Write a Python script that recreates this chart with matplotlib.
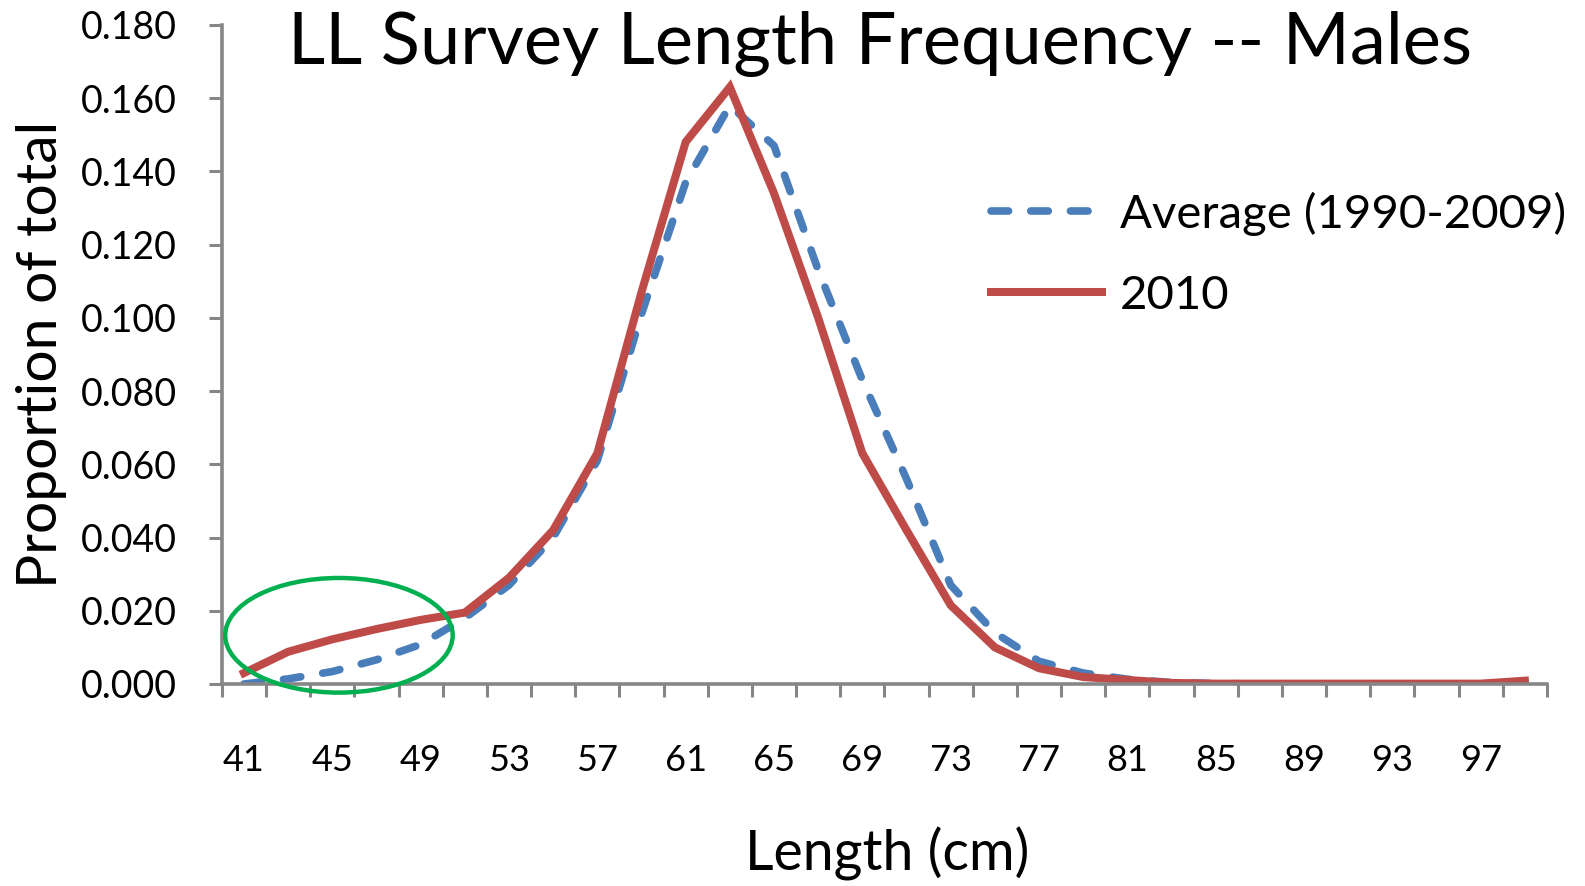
import matplotlib.pyplot as plt
from matplotlib.patches import Ellipse
from matplotlib.ticker import FixedLocator, NullFormatter, FixedFormatter

# Datos
longitudes = list(range(41, 101, 2))
promedio = [0.000, 0.0014, 0.0034, 0.0066, 0.0108, 0.018, 0.027, 0.040,
            0.061, 0.101, 0.137, 0.158, 0.147, 0.113, 0.083, 0.056, 0.027,
            0.014, 0.0062, 0.003, 0.0013, 0.0004, 0.0001, 0.0, 0.0, 0.0,
            0.0, 0.0, 0.0, 0.0]
anio_2010 = [0.003, 0.0088, 0.0122, 0.015, 0.0175, 0.0195, 0.029, 0.042,
             0.063, 0.107, 0.148, 0.163, 0.134, 0.100, 0.063, 0.042, 0.0215,
             0.010, 0.0043, 0.0019, 0.0011, 0.0003, 0.0001, 0.0001, 0.0001,
             0.0001, 0.0001, 0.0001, 0.0001, 0.0009]
etiquetas_x = list(range(41, 101, 4))
ticks_y = [i * 0.02 for i in range(10)]

plt.rcParams['font.family'] = ['Lato', 'DejaVu Sans']
gris = '#868686'

fig = plt.figure(figsize=(15.85, 8.86), dpi=100)
ax = fig.add_axes([0.140, 0.228, 0.836, 0.744])

ax.plot(longitudes, promedio, color='#4A7EBB', lw=5.5, ls=(0, (2.3, 2.9)),
        dash_capstyle='round', label='Average (1990-2009)')
ax.plot(longitudes, anio_2010, color='#BE4B48', lw=5.8,
        solid_joinstyle='miter', label='2010')

# Elipse verde que marca las tallas pequeñas
elipse = Ellipse((45.3, 0.0133), 10.3, 0.0313, fill=False,
                 edgecolor='#00B050', lw=3.2, zorder=5, clip_on=False)
ax.add_patch(elipse)

ax.set_xlim(40, 100)
ax.set_ylim(0, 0.18)
ax.xaxis.set_major_locator(FixedLocator(list(range(40, 101, 2))))
ax.xaxis.set_major_formatter(NullFormatter())
ax.xaxis.set_minor_locator(FixedLocator(etiquetas_x))
ax.xaxis.set_minor_formatter(FixedFormatter([str(v) for v in etiquetas_x]))
ax.tick_params(axis='x', which='major', direction='out', length=9.4,
               width=2.2, color=gris)
ax.tick_params(axis='x', which='minor', length=0, pad=43, labelsize=26)
ax.set_yticks(ticks_y)
ax.set_yticklabels([f'{v:.3f}' for v in ticks_y])
ax.tick_params(axis='y', direction='out', length=9.4, width=2.2, color=gris,
               labelsize=27, pad=23)

for lado in ['top', 'right']:
    ax.spines[lado].set_visible(False)
for lado in ['left', 'bottom']:
    ax.spines[lado].set_color(gris)
    ax.spines[lado].set_linewidth(2.6)

fig.text(0.555, 0.950, 'LL Survey Length Frequency -- Males', fontsize=52,
         ha='center', va='center')
fig.text(0.026, 0.600, 'Proportion of total', fontsize=41, rotation=90,
         ha='center', va='center')
fig.text(0.560, 0.036, 'Length (cm)', fontsize=40, ha='center', va='center')

ax.legend(loc='center left', bbox_to_anchor=(0.625, 0.713), frameon=False,
          fontsize=34, handlelength=2.36, handletextpad=0.38,
          labelspacing=0.82, borderpad=0, borderaxespad=0,
          bbox_transform=fig.transFigure)

plt.savefig('out.png')
